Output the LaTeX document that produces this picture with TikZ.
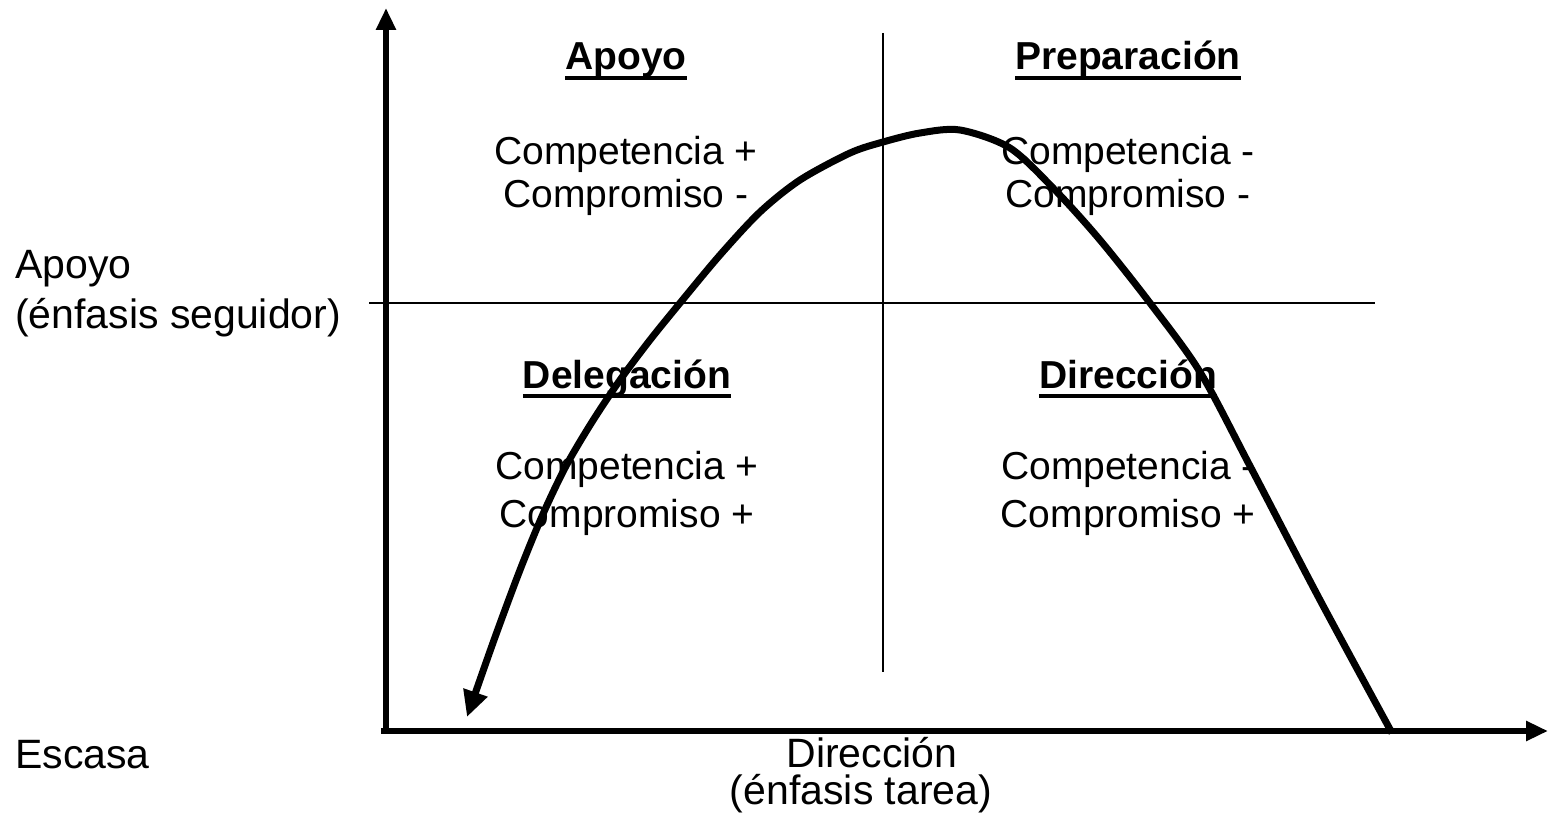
\documentclass[tikz,border=0pt]{standalone}
\usepackage{fontspec}
\setmainfont{Liberation Sans}
\usetikzlibrary{arrows.meta}
\begin{document}
\begin{tikzpicture}[x=1pt,y=1pt,
  qtext/.style={inner sep=0pt,anchor=base,font=\fontsize{39}{43}\selectfont},
  qtitle/.style={inner sep=0pt,anchor=base,font=\fontsize{39}{43}\selectfont\bfseries},
  atext/.style={inner sep=0pt,anchor=base west,font=\fontsize{41}{45}\selectfont},
  btext/.style={inner sep=0pt,anchor=base,font=\fontsize{41}{45}\selectfont},
  uline/.style={line width=4.5pt},
  axis/.style={line width=5.5pt,-{Triangle[length=22pt,width=19pt]}},
  thin/.style={line width=2.2pt},
  curve/.style={line width=7pt,line join=round,-{Triangle[length=26pt,width=24pt]}}]
\useasboundingbox (0,0) rectangle (1548,-813);
% axes
\coordinate (ybot) at (386,-733);
\coordinate (ytop) at (386,-8);
\coordinate (xstart) at (381,-731);
\coordinate (xend) at (1548,-731);
\draw[axis] (ybot) -- (ytop);
\draw[axis] (xstart) -- (xend);
% quadrant lines
\coordinate (hl) at (369,-303);
\coordinate (hr) at (1375,-303);
\coordinate (vt) at (883,-33);
\coordinate (vb) at (883,-672);
\draw[thin] (hl) -- (hr);
\draw[thin] (vt) -- (vb);
% quadrant texts
\node[qtitle] (tapoyo) at (626,-70) {Apoyo};
\node[qtitle] (tprep) at (1128,-70) {Preparación};
\node[qtitle] (tdeleg) at (627,-388) {Delegación};
\node[qtitle] (tdir) at (1128,-388) {Dirección};
\foreach \n in {tapoyo,tprep,tdeleg,tdir}
  \draw[uline] ([yshift=-8pt]\n.base west) -- ([yshift=-8pt]\n.base east);
\node[qtext] (c1a) at (626,-165) {Competencia +};
\node[qtext] (c1b) at (626,-208) {Compromiso -};
\node[qtext] (c2a) at (1128,-165) {Competencia -};
\node[qtext] (c2b) at (1128,-208) {Compromiso -};
\node[qtext] (c3a) at (627,-479) {Competencia +};
\node[qtext] (c3b) at (627,-527) {Compromiso +};
\node[qtext] (c4a) at (1128,-479) {Competencia -};
\node[qtext] (c4b) at (1128,-527) {Compromiso +};
% axis labels
\node[atext] (la) at (15,-278) {Apoyo};
\node[atext] (lb) at (15,-328) {(énfasis seguidor)};
\node[atext] (le) at (15,-768) {Escasa};
\node[btext] (da) at (872,-767) {Dirección};
\node[btext] (db) at (861,-804) {(énfasis tarea)};
% curve
\draw[curve] plot[smooth,tension=0.5] coordinates {
  (1392,-733) (1320,-600) (1250,-466) (1200,-372) (1150,-303) (1100,-240)
  (1055,-190) (1010,-148) (960,-130) (920,-133) (883,-142) (850,-153)
  (800,-180) (760,-212) (720,-255) (680,-303) (650,-340) (620,-380)
  (592,-422) (566,-466) (543,-514) (520,-570) (494,-640) (467,-717)};
\end{tikzpicture}
\end{document}
